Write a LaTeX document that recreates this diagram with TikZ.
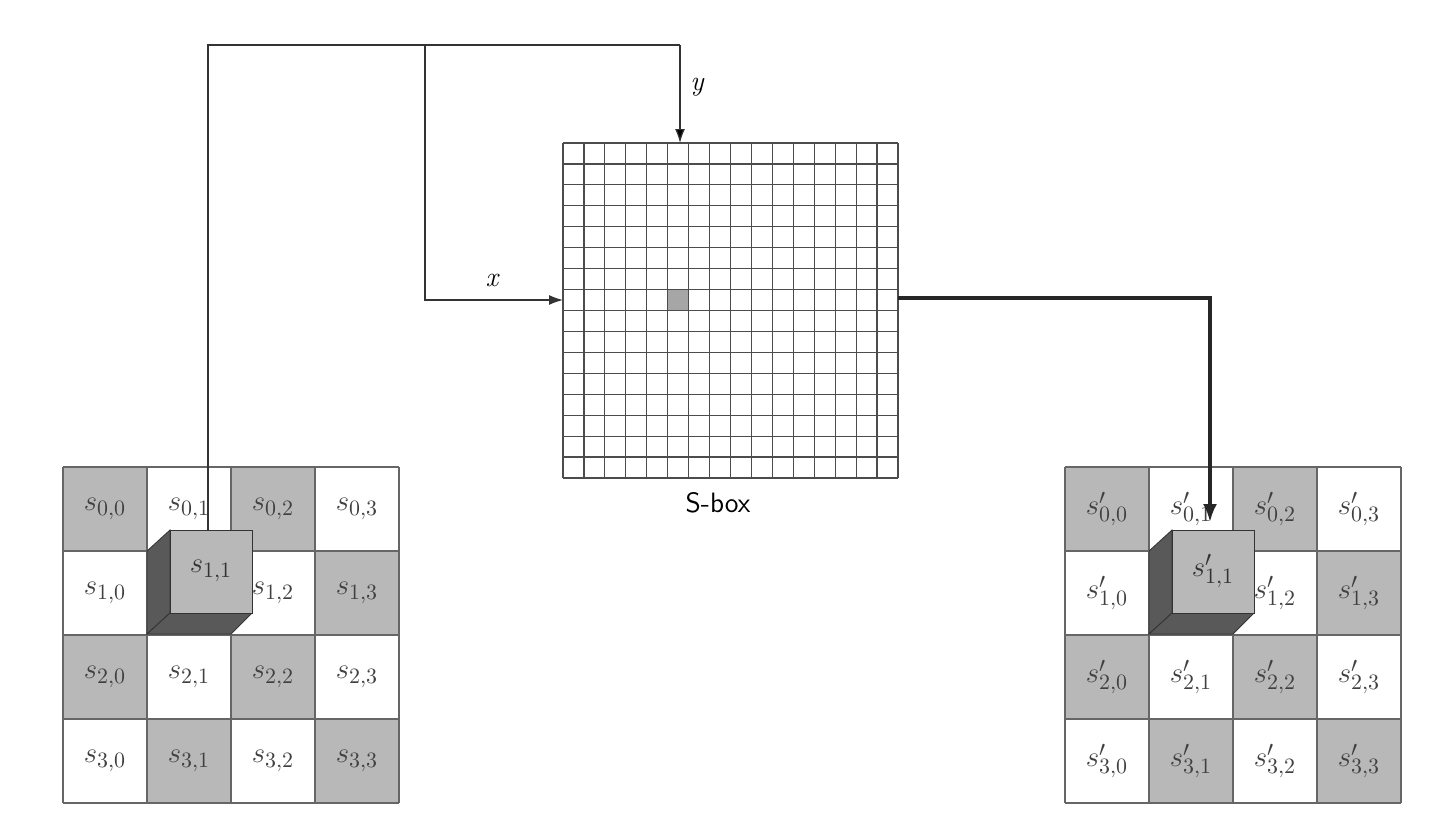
\documentclass[tikz,border=0pt]{standalone}
\usetikzlibrary{arrows.meta}
\begin{document}
\begin{tikzpicture}[x=0.5pt,y=-0.5pt,
  lbl/.style={font=\fontsize{15}{18}\selectfont},
  wire/.style={draw=black!80,line width=0.6pt},
  tip/.style={-{Latex[length=7pt,width=5pt]}},
  thick wire/.style={draw=black!85,line width=1.6pt}]
\useasboundingbox[fill=white] (0,0) rectangle (1440,820);
\foreach \i in {0,...,3}{\foreach \j in {0,...,3}{
  \pgfmathtruncatemacro\pp{mod(\i+\j,2)}
  \ifnum\pp=0
   \fill[black!28] ({63+\j*84},{467+\i*84}) rectangle ++(84,84);
   \fill[black!28] ({1065+\j*84},{467+\i*84}) rectangle ++(84,84);
  \fi
}}
\foreach \i in {0,...,4}{
 \draw[black!60,line width=0.8pt] (63,{467+\i*84}) -- ++(336,0);
 \draw[black!60,line width=0.8pt] ({63+\i*84},467) -- ++(0,336);
 \draw[black!60,line width=0.8pt] (1065,{467+\i*84}) -- ++(336,0);
 \draw[black!60,line width=0.8pt] ({1065+\i*84},467) -- ++(0,336);}
\foreach \i in {0,...,3}{\foreach \j in {0,...,3}{
  \pgfmathtruncatemacro\kk{\i*4+\j}
  \ifnum\kk=5 \else
  \node[lbl,text=black!75] (l\i\j) at ({105+\j*84},{509+\i*84}) {$s_{\i,\j}$};
  \node[lbl,text=black!75] (r\i\j) at ({1107+\j*84},{509+\i*84}) {$s'_{\i,\j}$};
  \fi
}}
\foreach \ox/\nm/\t in {0/cl/{$s_{1,1}$},1002/cr/{$s'_{1,1}$}}{
 \begin{scope}[xshift=\ox*0.5pt]
 \draw[black!80,fill=black!65] (147,551) -- (170,530) -- (170,613) -- (147,634) -- cycle;
 \draw[black!80,fill=black!65] (147,634) -- (231,634) -- (252,613) -- (170,613) -- cycle;
 \draw[black!80,fill=black!28] (170,530) rectangle (252,613);
 \node[lbl,text=black!80] (\nm) at (211,571) {\t};
 \end{scope}}
\fill[black!35] (668,290) rectangle ++(21,21);
\foreach \k in {0,...,16}{
 \draw[black!70,line width=0.6pt] ({563+\k*20.9375},143) -- ++(0,335);
 \draw[black!70,line width=0.6pt] (563,{143+\k*20.9375}) -- ++(335,0);}
\node[font=\fontsize{14}{16}\sffamily] (sb) at (718,503) {S-box};
\coordinate (top) at (680,143);
\coordinate (left) at (563,300);
\coordinate (src) at (208,530);
\coordinate (dst) at (1210,522);
\draw[wire] (src) -- (208,45) -- (680,45) edge[tip] (top);
\draw[wire,tip] (425,45) -- (425,300) -- (left);
\node[font=\fontsize{14}{16}\itshape] (ly) at (697,87) {y};
\node[font=\fontsize{14}{16}\itshape] (lx) at (492,280) {x};
\draw[thick wire,-{Latex[length=9pt,width=7pt]}] (898,298) -- (1210,298) -- (dst);
\end{tikzpicture}
\end{document}
